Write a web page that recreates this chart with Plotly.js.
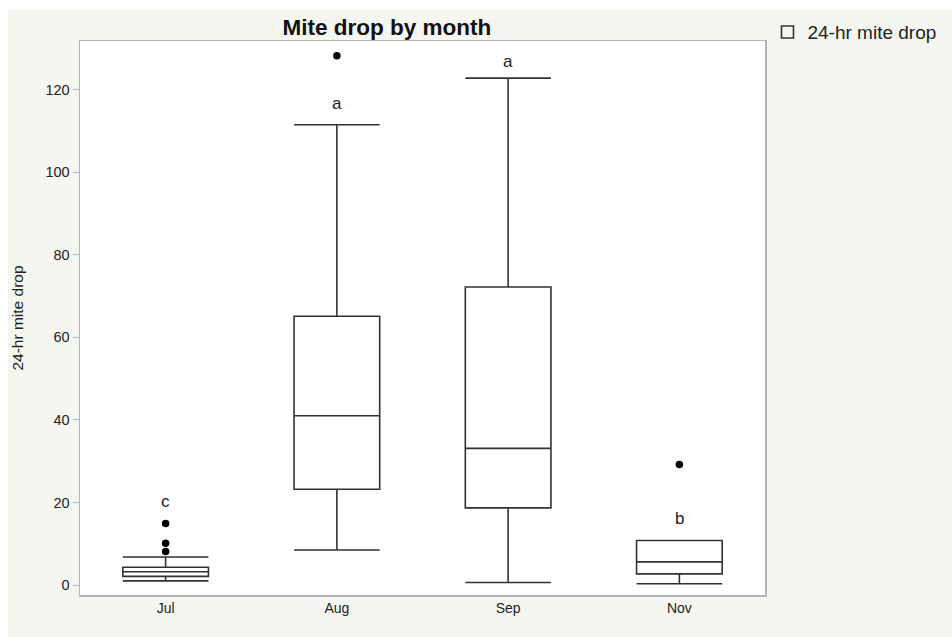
<!DOCTYPE html>
<html>
<head>
<meta charset="utf-8">
<script src="https://cdn.plot.ly/plotly-3.0.1.min.js"></script>
<style>
html,body{margin:0;padding:0;background:#ffffff;width:952px;height:637px;overflow:hidden;}
#chart{position:absolute;left:8px;top:10px;width:944px;height:627px;}
</style>
</head>
<body>
<div id="chart"></div>
<script>
// Data
const months = ["Jul", "Aug", "Sep", "Nov"];
const lowerWhisker = [1.0, 8.5, 0.6, 0.3];
const q1 = [2.1, 23.2, 18.7, 2.7];
const median = [3.2, 41.0, 33.1, 5.6];
const q3 = [4.3, 65.1, 72.2, 10.8];
const upperWhisker = [6.8, 111.5, 122.8, 10.8];

const outlierMonths = ["Jul", "Jul", "Jul", "Aug", "Nov"];
const outlierValues = [14.9, 10.1, 8.1, 128.2, 29.2];

const letterMonths = ["Jul", "Aug", "Sep", "Nov"];
const letters = ["c", "a", "a", "b"];
const letterY = [20.3, 116.6, 126.8, 16.2];

const seriesName = "24-hr mite drop";

const font = "Liberation Sans, Arial, Helvetica, sans-serif";

const traces = [
  {
    type: "box",
    name: seriesName,
    x: months,
    q1: q1,
    median: median,
    q3: q3,
    lowerfence: lowerWhisker,
    upperfence: upperWhisker,
    boxpoints: false,
    width: 0.5,
    whiskerwidth: 1,
    fillcolor: "rgba(0,0,0,0)",
    line: {color: "#333333", width: 1.6},
    hoverinfo: "skip"
  },
  {
    type: "scatter",
    mode: "markers",
    x: outlierMonths,
    y: outlierValues,
    marker: {color: "#000000", size: 7.5},
    showlegend: false,
    hoverinfo: "skip"
  }
];

const annotations = letters.map((t, i) => ({
  x: letterMonths[i],
  y: letterY[i],
  xref: "x",
  yref: "y",
  text: t,
  showarrow: false,
  font: {family: font, size: 17, color: "#222222"}
}));

const layout = {
  width: 944,
  height: 627,
  paper_bgcolor: "#f6f6f1",
  plot_bgcolor: "#ffffff",
  margin: {l: 72, r: 187, t: 31, b: 42, autoexpand: false},
  font: {family: font, color: "#222222"},
  title: {
    text: "<b>Mite drop by month</b>",
    font: {family: font, size: 22.5, color: "#111111"},
    x: 0.448,
    xref: "paper",
    xanchor: "center",
    y: 0.973,
    yref: "container",
    yanchor: "middle"
  },
  xaxis: {
    type: "category",
    categoryarray: months,
    range: [-0.5, 3.5],
    showline: true,
    mirror: true,
    linecolor: "#b3b3b3",
    linewidth: 1.5,
    ticks: "",
    showgrid: false,
    zeroline: false,
    tickfont: {family: font, size: 14, color: "#222222"},
    fixedrange: true
  },
  yaxis: {
    range: [-2.42, 131.8],
    tickvals: [0, 20, 40, 60, 80, 100, 120],
    showline: true,
    mirror: true,
    linecolor: "#b3b3b3",
    linewidth: 1.5,
    ticks: "outside",
    ticklen: 6,
    tickcolor: "#b3b3b3",
    showgrid: false,
    zeroline: false,
    tickfont: {family: font, size: 14.5, color: "#222222"},
    title: {text: seriesName, font: {family: font, size: 15.5, color: "#222222"}, standoff: 18},
    fixedrange: true
  },
  showlegend: true,
  legend: {
    x: 1.0036,
    xanchor: "left",
    y: 1.016,
    yanchor: "middle",
    bgcolor: "rgba(0,0,0,0)",
    font: {family: font, size: 19, color: "#222222"}
  },
  annotations: annotations
};

Plotly.newPlot("chart", traces, layout, {displayModeBar: false, staticPlot: true});
</script>
</body>
</html>
